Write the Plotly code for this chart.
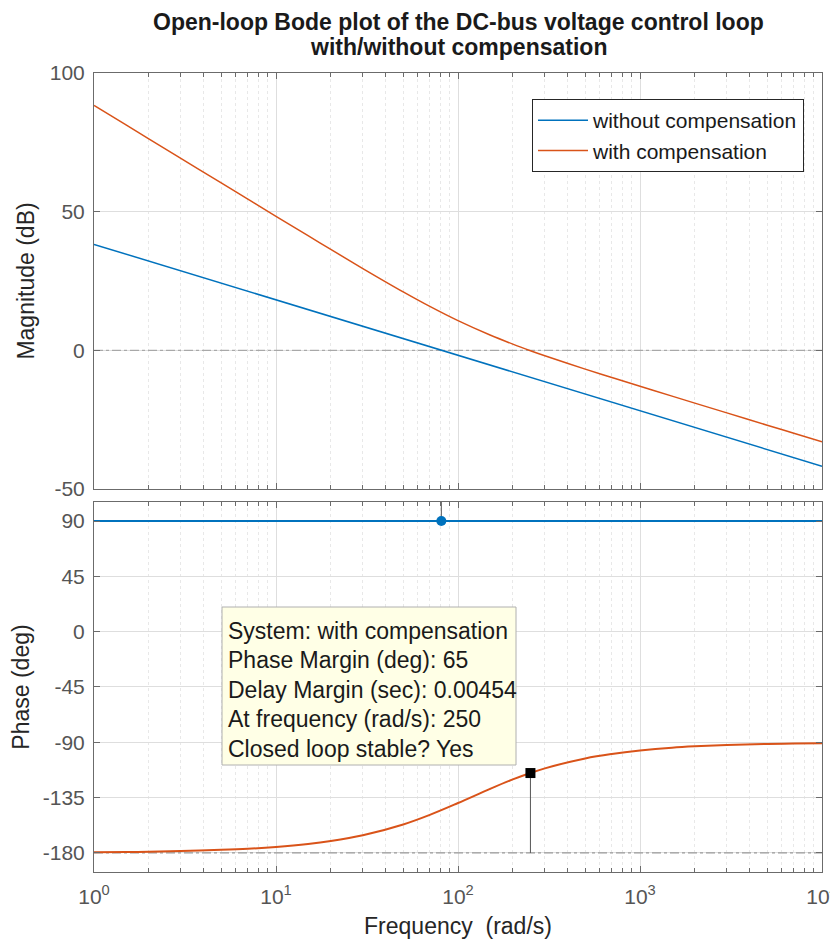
import plotly.graph_objects as go
from plotly.subplots import make_subplots

# ---------------- data ----------------
freq = [1, 1.5, 2, 3, 5, 7, 10, 15, 20, 30, 50, 70, 100, 150, 200, 250, 300,
        500, 700, 1000, 1500, 2000, 3000, 5000, 7000, 10000]
mag_with = [88.3, 81.26, 76.26, 69.22, 60.35, 54.51, 48.33, 41.33, 36.38, 29.49,
            21.07, 15.83, 10.69, 5.50, 2.22, -0.14, -1.96, -6.78, -9.82, -12.97,
            -16.53, -19.04, -22.57, -27.01, -29.93, -33.03]
phase_with = [-179.5, -179.3, -179.0, -178.5, -177.5, -176.6, -175.1, -172.7, -170.3,
              -165.6, -156.8, -149.0, -139.4, -127.9, -120.2, -115.0, -111.2, -103.1,
              -99.5, -96.7, -94.4, -93.3, -92.2, -91.3, -91.0, -90.7]

freq_without = [1, 10, 100, 1000, 10000]
mag_without = [38.2, 18.2, -1.8, -21.8, -41.8]
phase_without = [90, 90, 90, 90, 90]

# phase-margin markers
pm_freq_with = 250
pm_phase_with = -115
pm_freq_without = 81
pm_phase_without = 90

freq_range = [1, 10000]
mag_ticks = [-50, 0, 50, 100]
phase_ticks = [-180, -135, -90, -45, 0, 45, 90]
x_ticks = [1, 10, 100, 1000, 10000]
x_ticktext = ["10<sup>0</sup>", "10<sup>1</sup>", "10<sup>2</sup>", "10<sup>3</sup>", "10<sup>4</sup>"]
x_minor = [m * 10 ** d for d in range(4) for m in range(2, 10)]

title_lines = ["Open-loop Bode plot of the DC-bus voltage control loop",
               "with/without compensation"]
info_lines = ["System: with compensation",
              "Phase Margin (deg): 65",
              "Delay Margin (sec): 0.00454",
              "At frequency (rad/s): 250",
              "Closed loop stable? Yes"]

# ---------------- style ----------------
BLUE = "#0072BD"
ORANGE = "#D95319"
FONT = "Liberation Sans"
TICKCOL = "#555555"
AXCOL = "#6b6b6b"
GRID = "#dedede"
MGRID = "#e8e8e8"

# page has an 8px body margin; plot area in page pixels: x 94..822, y 73..872
def px_x(px):
    return (px - 94) / 728

def px_y(py):
    return (872 - py) / 799

fig = make_subplots(rows=2, cols=1, shared_xaxes=True)

# magnitude
fig.add_trace(go.Scatter(x=freq_range, y=[0, 0], mode="lines",
                         line=dict(color="#9a9a9a", width=1, dash="dashdot"),
                         showlegend=False, hoverinfo="skip"), row=1, col=1)
fig.add_trace(go.Scatter(x=freq_without, y=mag_without, mode="lines", name="without compensation",
                         line=dict(color=BLUE, width=1.5)), row=1, col=1)
fig.add_trace(go.Scatter(x=freq, y=mag_with, mode="lines", name="with compensation",
                         line=dict(color=ORANGE, width=1.5, shape="spline")), row=1, col=1)

# phase
fig.add_trace(go.Scatter(x=freq_range, y=[-180, -180], mode="lines",
                         line=dict(color="#9a9a9a", width=1.2, dash="dashdot"),
                         showlegend=False, hoverinfo="skip"), row=2, col=1)
fig.add_trace(go.Scatter(x=[pm_freq_without, pm_freq_without], y=[pm_phase_without, 180], mode="lines",
                         line=dict(color="#555555", width=1), showlegend=False), row=2, col=1)
fig.add_trace(go.Scatter(x=[pm_freq_with, pm_freq_with], y=[pm_phase_with, -180], mode="lines",
                         line=dict(color="#555555", width=1), showlegend=False), row=2, col=1)
fig.add_trace(go.Scatter(x=freq_without, y=phase_without, mode="lines",
                         line=dict(color=BLUE, width=2), showlegend=False), row=2, col=1)
fig.add_trace(go.Scatter(x=freq, y=phase_with, mode="lines",
                         line=dict(color=ORANGE, width=2, shape="spline"), showlegend=False), row=2, col=1)
fig.add_trace(go.Scatter(x=[pm_freq_without], y=[pm_phase_without], mode="markers",
                         marker=dict(color=BLUE, size=10, symbol="circle"), showlegend=False), row=2, col=1)
fig.add_trace(go.Scatter(x=[pm_freq_with], y=[pm_phase_with], mode="markers",
                         marker=dict(color="black", size=10, symbol="square"), showlegend=False), row=2, col=1)

common_x = dict(type="log", range=[0, 4], showline=True, linecolor=AXCOL, linewidth=1,
                mirror="ticks", ticks="inside", ticklen=6, tickcolor=AXCOL,
                tickvals=x_ticks, ticktext=x_ticktext, automargin=False, ticklabelstandoff=6,
                showgrid=True, gridcolor=GRID, gridwidth=1, zeroline=False,
                minor=dict(tickmode="array", tickvals=x_minor, ticks="inside", ticklen=4,
                           tickcolor=AXCOL, showgrid=True, gridcolor=MGRID, griddash="dot"),
                tickfont=dict(family=FONT, size=21, color=TICKCOL))
fig.update_xaxes(**common_x)
fig.update_xaxes(showticklabels=False, row=1, col=1)
fig.update_xaxes(title=dict(text="Frequency  (rad/s)", font=dict(family=FONT, size=23, color="#262626"),
                            standoff=11), row=2, col=1)

common_y = dict(showline=True, linecolor=AXCOL, linewidth=1, mirror="ticks", ticks="inside",
                ticklen=6, tickcolor=AXCOL, showgrid=True, gridcolor=GRID, zeroline=False,
                automargin=False, ticklabelstandoff=4,
                tickfont=dict(family=FONT, size=21, color=TICKCOL))
fig.update_yaxes(**common_y)
fig.update_yaxes(range=[-50, 100], tickvals=mag_ticks, ticktext=[str(v) for v in mag_ticks],
                 domain=[0.4794, 1.0],
                 title=dict(text="Magnitude (dB)", font=dict(family=FONT, size=23, color="#262626"),
                            standoff=8),
                 row=1, col=1)
fig.update_yaxes(range=[-195.5, 105.5], tickvals=phase_ticks, ticktext=[str(v) for v in phase_ticks],
                 domain=[0.0, 0.4631],
                 title=dict(text="Phase (deg)", font=dict(family=FONT, size=23, color="#262626"),
                            standoff=8),
                 row=2, col=1)

# title (two lines)
for txt, py in zip(title_lines, [22, 47]):
    fig.add_annotation(xref="paper", yref="paper", x=px_x(458), y=px_y(py),
                       xanchor="center", yanchor="middle", text="<b>%s</b>" % txt, showarrow=False,
                       font=dict(family=FONT, size=23, color="#1a1a1a"))

# info box
fig.add_shape(type="rect", xref="paper", yref="paper", x0=px_x(222), x1=px_x(516),
              y0=px_y(765), y1=px_y(607),
              fillcolor="#FFFFE6", line=dict(color="#b0b0b0", width=1), layer="above")
line_px = [631, 660, 690, 719, 749]
for txt, py in zip(info_lines, line_px):
    fig.add_annotation(xref="paper", yref="paper", x=px_x(226), y=px_y(py),
                       xanchor="left", yanchor="middle", text=txt, showarrow=False,
                       font=dict(family=FONT, size=23, color="#1a1a1a"))

fig.update_layout(
    width=830, height=931,
    margin=dict(l=86, r=16, t=65, b=67),
    paper_bgcolor="white", plot_bgcolor="white",
    legend=dict(x=px_x(532), y=px_y(99), xanchor="left", yanchor="top",
                bgcolor="white", bordercolor="#262626", borderwidth=1, itemwidth=50,
                font=dict(family=FONT, size=21, color="#1a1a1a")),
    showlegend=True,
)

fig.write_html("out.html")
